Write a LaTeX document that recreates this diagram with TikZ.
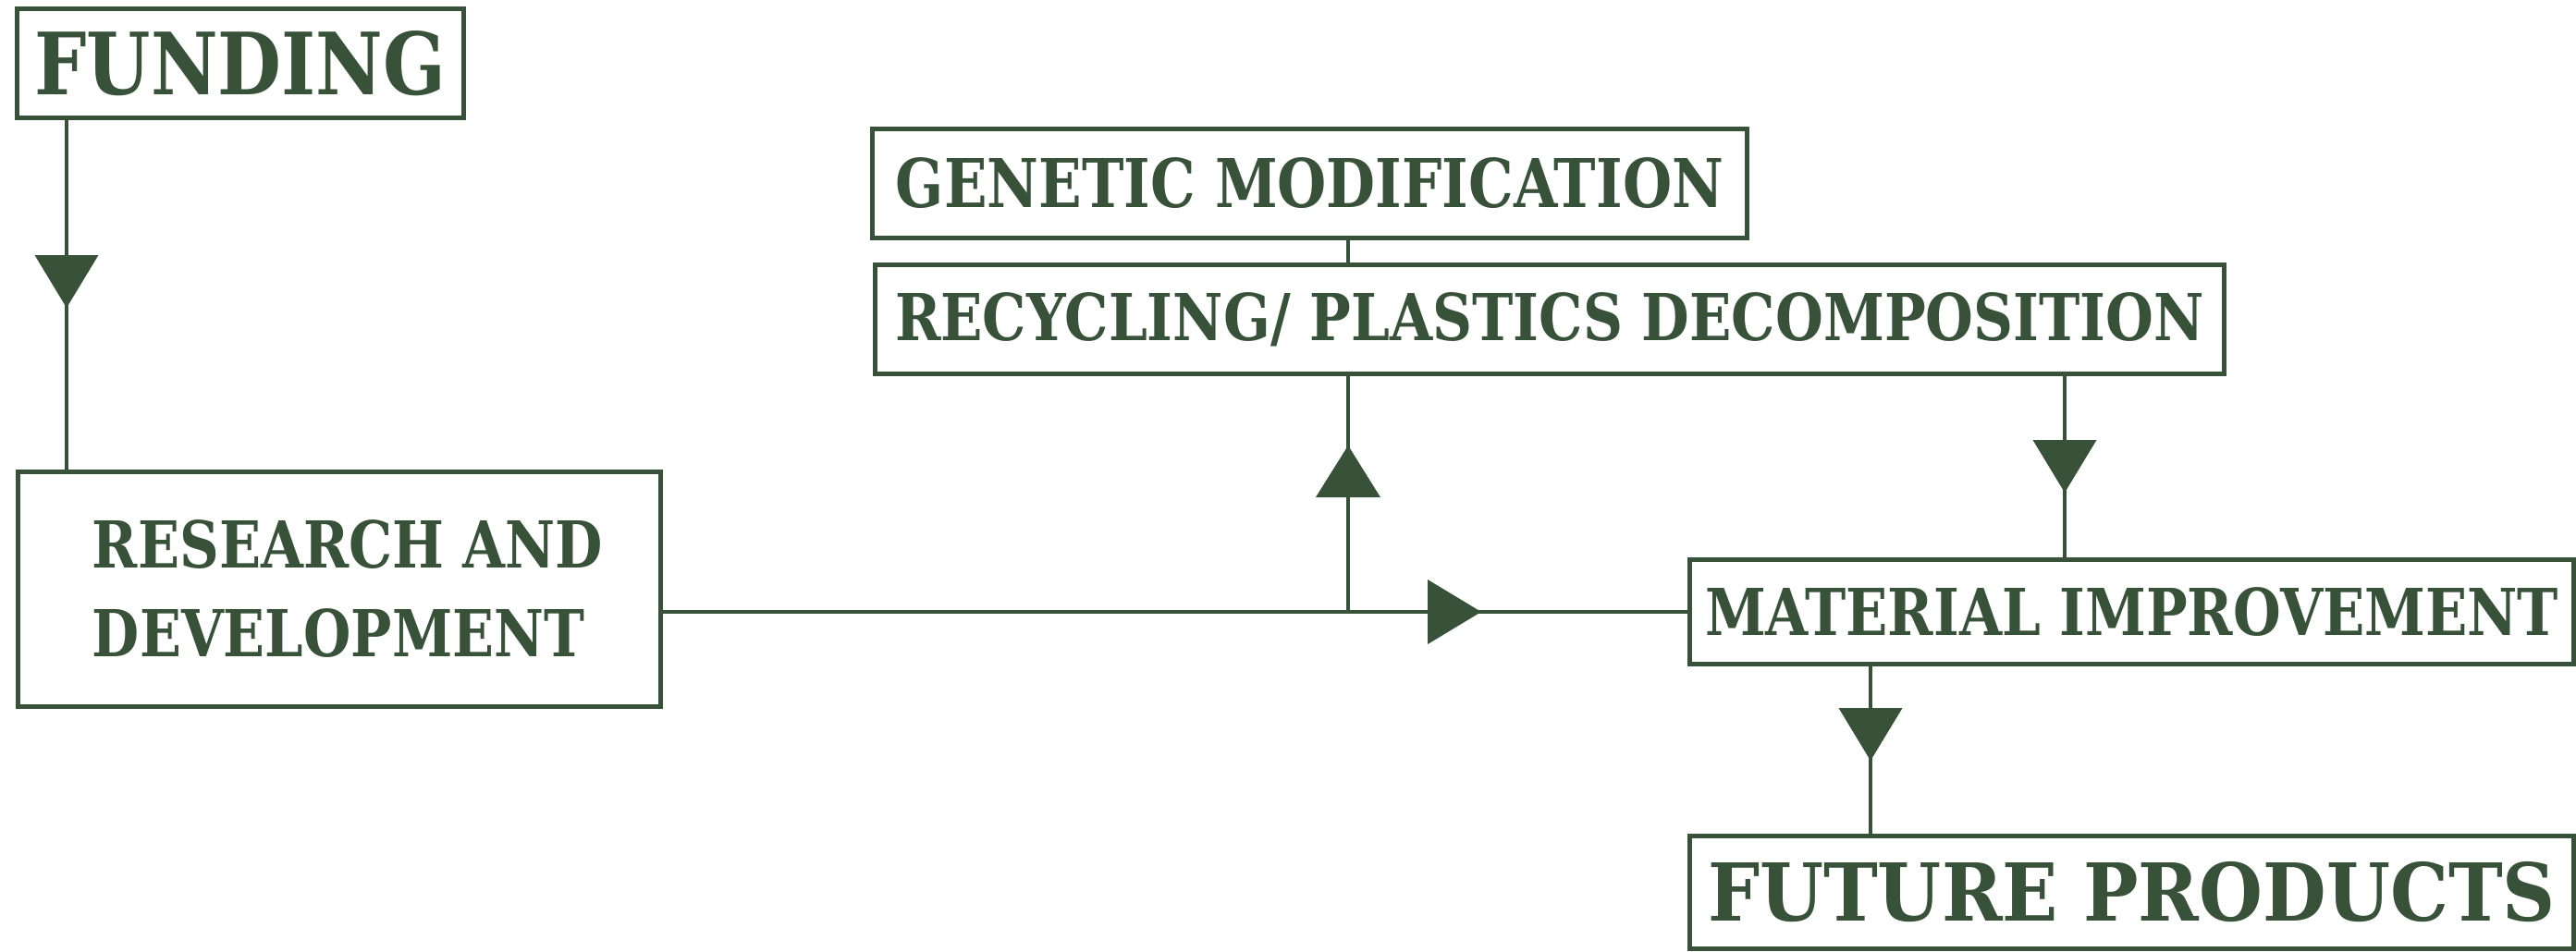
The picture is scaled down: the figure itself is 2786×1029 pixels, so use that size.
\documentclass[tikz,border=0pt]{standalone}
\usepackage{fontspec}
\setmainfont{DejaVu Serif Condensed}
\usepackage{graphicx}
\definecolor{dg}{HTML}{385239}
\newcommand\fitw[2]{\resizebox{#1}{\height}{#2}}
\begin{document}
\begin{tikzpicture}[x=1pt,y=-1pt,
  box/.style={draw=dg,line width=5pt,inner sep=0pt,rectangle,text=dg,font=\bfseries},
  conn/.style={draw=dg,line width=4pt},
  downtri/.pic={\fill[dg] (0,0) -- (-34.5,-57) -- (34.5,-57) -- cycle;},
  uptri/.pic={\fill[dg] (0,0) -- (-35,56) -- (35,56) -- cycle;},
  righttri/.pic={\fill[dg] (0,0) -- (-58,-35) -- (-58,35) -- cycle;}
]
\useasboundingbox (0,0) rectangle (2786,1029);

\node[box,minimum width=483pt,minimum height=118pt] (fund) at (260,68.5)
  {\fontsize{93}{100}\selectfont\fitw{445pt}{FUNDING}};
\node[box,minimum width=695pt,minimum height=254pt,align=left,
      font={\bfseries\fontsize{70}{96}\selectfont}] (rd) at (367,637.5)
  {\hspace*{18pt}\fitw{552pt}{RESEARCH AND}\\\hspace*{18pt}\fitw{532pt}{DEVELOPMENT}};
\node[box,minimum width=946pt,minimum height=118pt] (gen) at (1416.5,198.5)
  {\fontsize{72.7}{80}\selectfont\fitw{895pt}{GENETIC MODIFICATION}};
\node[box,minimum width=1459pt,minimum height=118pt] (rec) at (1676,345.5)
  {\fontsize{70}{80}\selectfont\fitw{1416pt}{RECYCLING/ PLASTICS DECOMPOSITION}};
\node[box,minimum width=956pt,minimum height=113pt] (mat) at (2305.5,662)
  {\fontsize{70}{80}\selectfont\fitw{923pt}{MATERIAL IMPROVEMENT}};
\node[box,minimum width=956pt,minimum height=122pt] (fut) at (2305.5,965.5)
  {\fontsize{86.4}{95}\selectfont\fitw{917pt}{FUTURE PRODUCTS}};

% connectors
\coordinate (j) at (1458,662);
\draw[conn] (72,0 |- fund.south) -- (72,0 |- rd.north);
\draw[conn] (rd.east |- mat.west) -- (mat.west);
\draw[conn] (j) -- (j |- rec.south);
\draw[conn] (j |- rec.north) -- (j |- gen.south);
\draw[conn] (2233,0 |- rec.south) -- (2233,0 |- mat.north);
\draw[conn] (2023,0 |- mat.south) -- (2023,0 |- fut.north);

% arrowheads
\pic at (72,333) {downtri};
\pic at (1458,482) {uptri};
\pic at (1602,662) {righttri};
\pic at (2233,533) {downtri};
\pic at (2023,823) {downtri};
\end{tikzpicture}
\end{document}
